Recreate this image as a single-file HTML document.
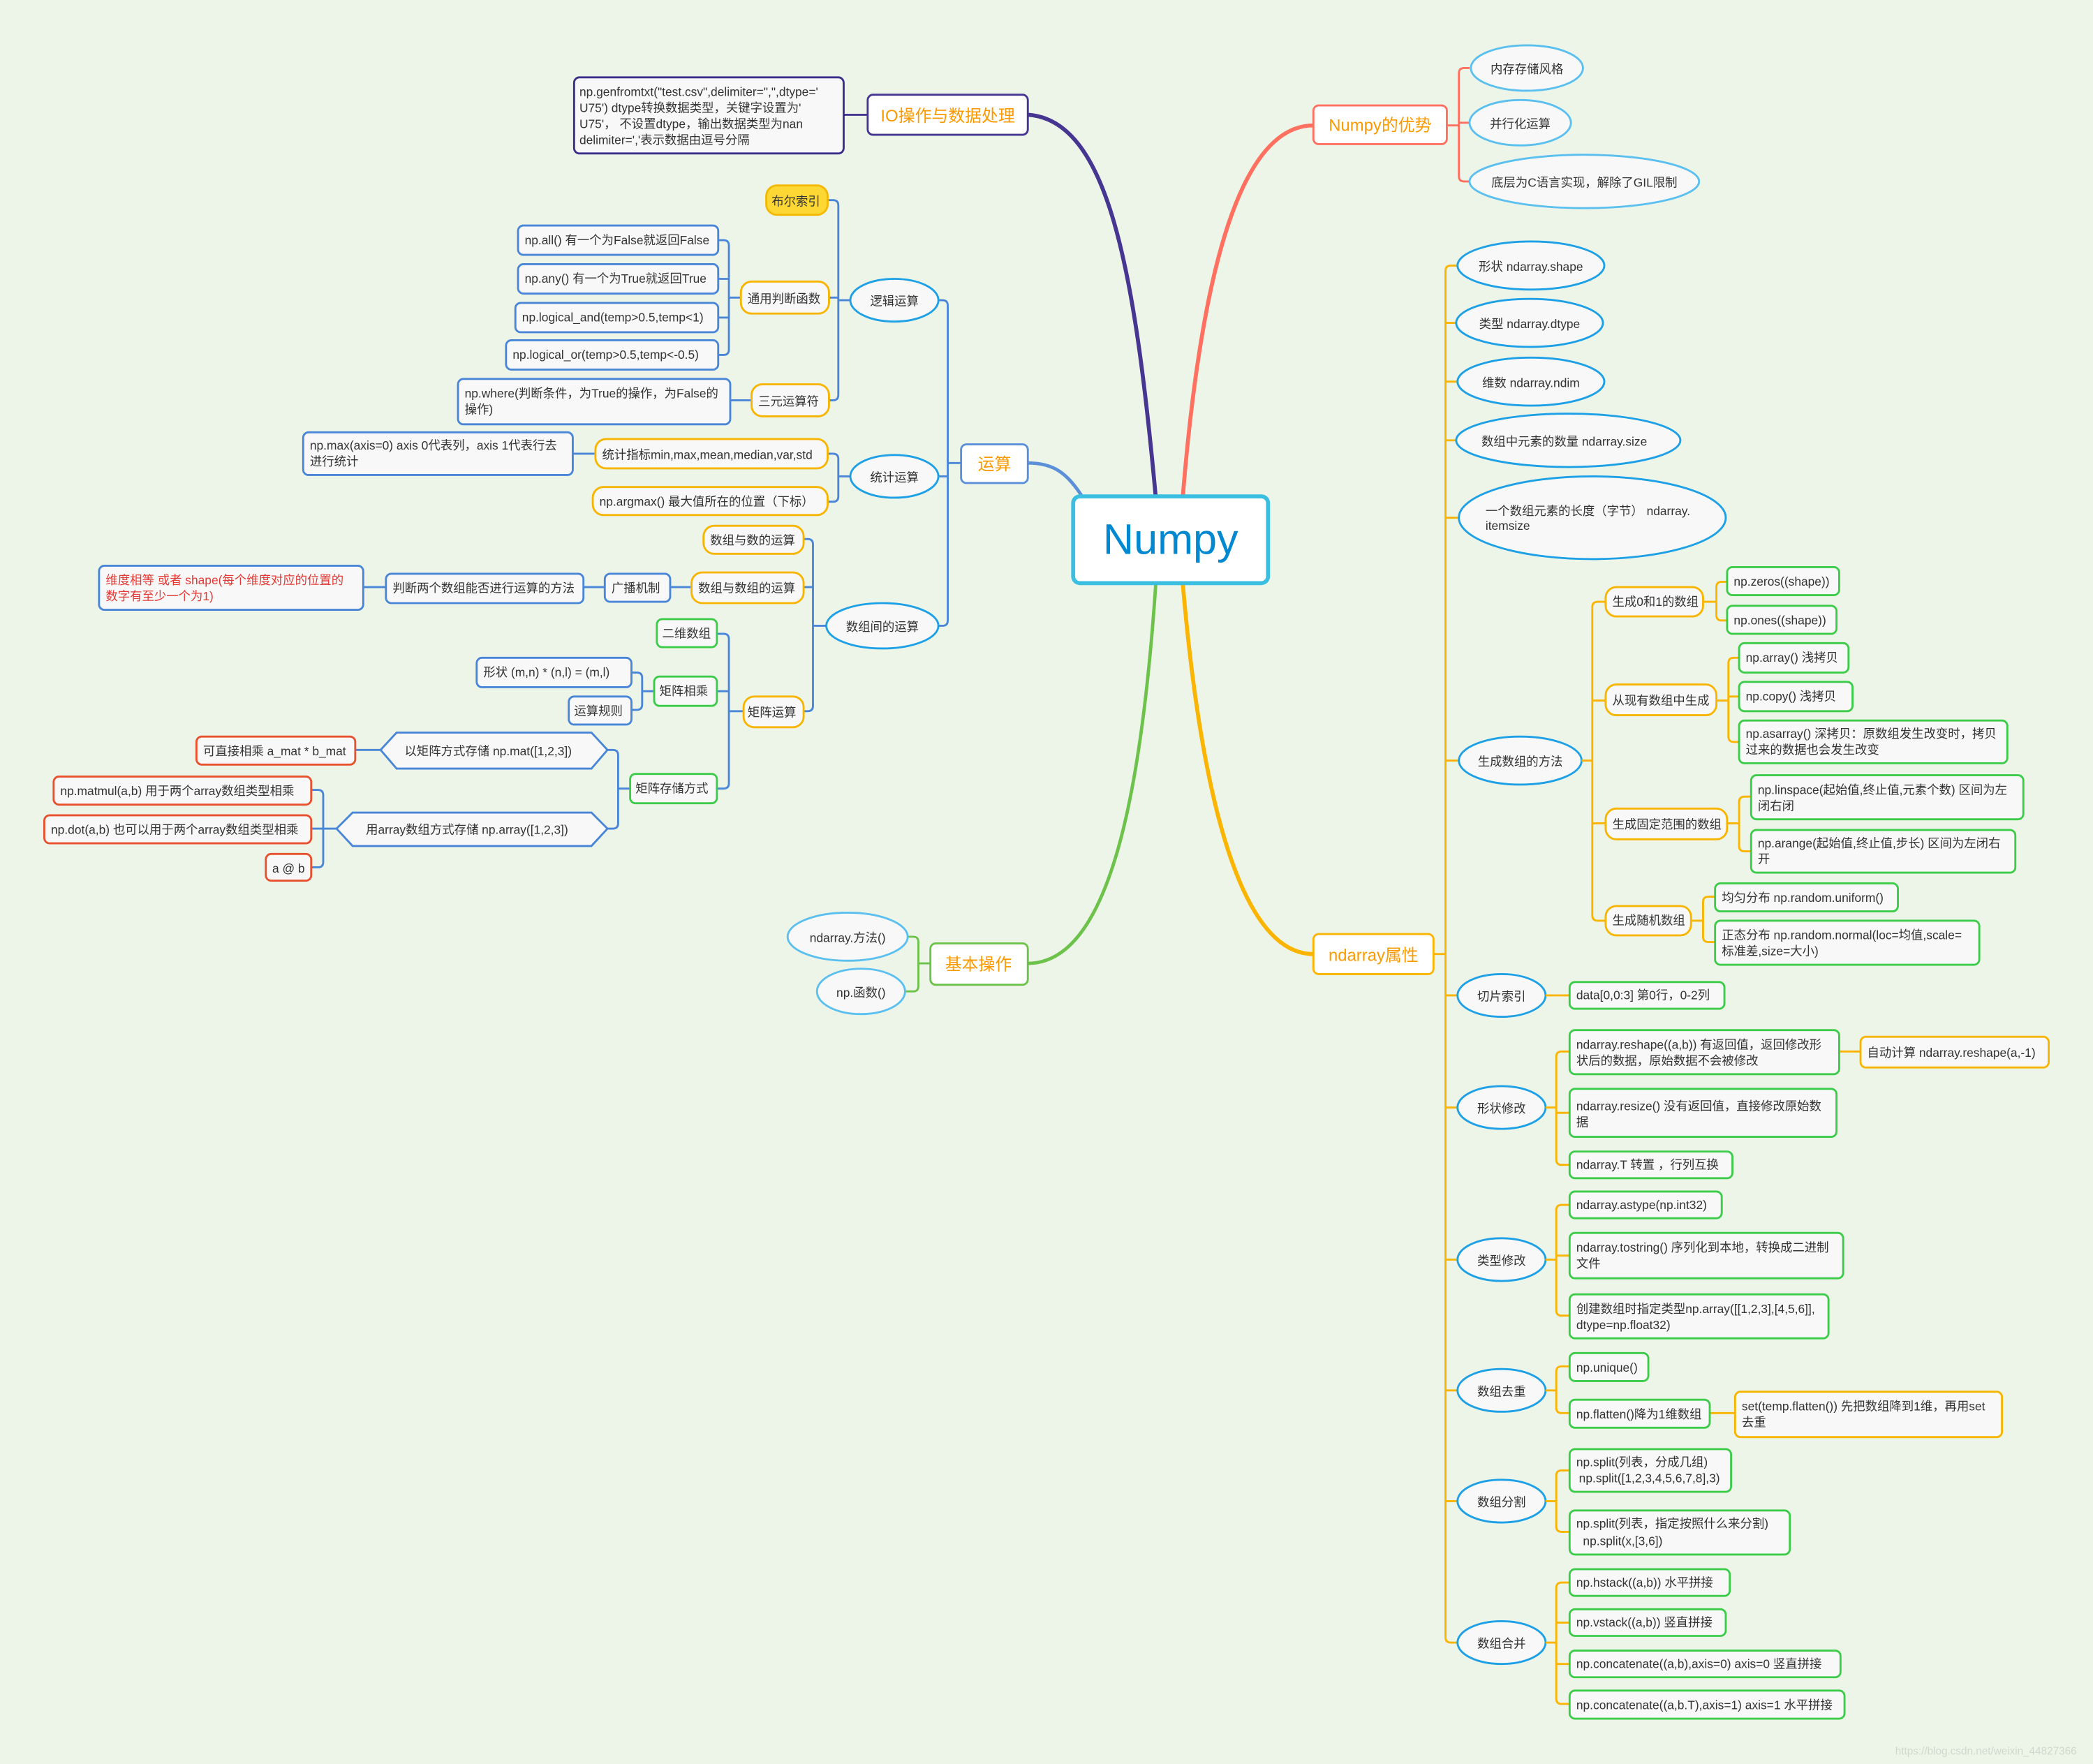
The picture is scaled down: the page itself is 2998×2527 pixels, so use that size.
<!DOCTYPE html>
<html><head><meta charset="utf-8"><style>
html,body{margin:0;padding:0;background:#edf5e8;}
svg{display:block;}
text{font-family:"Liberation Sans","Noto Sans CJK SC",sans-serif;font-size:9.1px;fill:#333;}
.b{fill:#f7f8f7;stroke:#4a86d8;stroke-width:1.5;}
.g{fill:#f7f8f7;stroke:#3ccc4a;stroke-width:1.5;}
.y{fill:#f7f8f7;stroke:#f7b500;stroke-width:1.5;}
.r{fill:#f7f8f7;stroke:#e8502e;stroke-width:1.5;}
.e{fill:#f7f8f7;stroke:#1ea0e6;stroke-width:1.5;}
.cb{fill:none;stroke:#4a86d8;stroke-width:1.5;}
.cy{fill:none;stroke:#fbb400;stroke-width:1.5;}
.cs{fill:none;stroke:#ff7060;stroke-width:1.5;}
.cg{fill:none;stroke:#6cc24a;stroke-width:1.5;}
.l1{font-size:12.5px;fill:#fb9a00;}
</style></head><body>
<svg width="2998" height="2527" viewBox="0 0 1568 1322" xmlns="http://www.w3.org/2000/svg">
<rect width="1568" height="1322" fill="#edf5e8"/>
<path d="M866,374 C850,200 830,90 770,86" fill="none" stroke="#473592" stroke-width="3"/>
<path d="M886,374 C900,200 930,94 984,94" fill="none" stroke="#ff7060" stroke-width="3"/>
<path d="M812,374 C800,355 790,347 770,347" fill="none" stroke="#5b8fd9" stroke-width="2.5"/>
<path d="M866,436 C855,600 830,722 770,722" fill="none" stroke="#6cc24a" stroke-width="2.5"/>
<path d="M886,436 C900,600 930,715 984,715" fill="none" stroke="#fbb400" stroke-width="3"/>

<rect x="804" y="372" width="146" height="65" rx="5" fill="#fff" stroke="#3bbfe0" stroke-width="3"/>
<text x="877" y="415" text-anchor="middle" style="font-size:32px;fill:#0088d0">Numpy</text>

<path class="cs" d="M1084,94 H1093 M1101,51 H1097 Q1093,51 1093,55 V132 Q1093,136 1097,136 H1101 M1093,92 H1101"/>
<rect x="984" y="79" width="100" height="29" rx="4" fill="#fff" stroke="#ff7060" stroke-width="1.5"/>
<text x="1034" y="98" text-anchor="middle" class="l1">Numpy的优势</text>
<ellipse class="e" cx="1144" cy="51" rx="42" ry="17" style="stroke:#5bc0f0"/><text x="1144" y="55" text-anchor="middle">内存存储风格</text>
<ellipse class="e" cx="1139" cy="92" rx="38" ry="17" style="stroke:#5bc0f0"/><text x="1139" y="96" text-anchor="middle">并行化运算</text>
<ellipse class="e" cx="1187" cy="136" rx="86" ry="20" style="stroke:#5bc0f0"/><text x="1187" y="140" text-anchor="middle">底层为C语言实现，解除了GIL限制</text>

<path class="cy" d="M1074,715 H1083 M1092,199 H1087 Q1083,199 1083,203 V1227 Q1083,1231 1087,1231 H1092 M1083,242 H1091 M1083,286 H1092 M1083,330 H1091 M1083,388 H1093 M1083,570 H1093 M1083,746 H1092 M1083,830 H1092 M1083,944 H1092 M1083,1042 H1092 M1083,1125 H1092"/>
<rect x="984" y="700" width="90" height="30" rx="4" fill="#fff" stroke="#fbb400" stroke-width="1.5"/>
<text x="1029" y="720" text-anchor="middle" class="l1">ndarray属性</text>
<ellipse class="e" cx="1147" cy="199" rx="55" ry="18"/><text x="1147" y="203" text-anchor="middle">形状 ndarray.shape</text>
<ellipse class="e" cx="1146" cy="242" rx="55" ry="18"/><text x="1146" y="246" text-anchor="middle">类型 ndarray.dtype</text>
<ellipse class="e" cx="1147" cy="286" rx="55" ry="18"/><text x="1147" y="290" text-anchor="middle">维数 ndarray.ndim</text>
<ellipse class="e" cx="1175" cy="330" rx="84" ry="20"/><text x="1172" y="334" text-anchor="middle">数组中元素的数量  ndarray.size</text>
<ellipse class="e" cx="1193" cy="388" rx="100" ry="31"/><text x="1113" y="386">一个数组元素的长度（字节）  ndarray.</text><text x="1113" y="397">itemsize</text>
<ellipse class="e" cx="1139" cy="570" rx="46" ry="18"/><text x="1139" y="574" text-anchor="middle">生成数组的方法</text>

<path class="cy" d="M1185,570 H1193 M1203,451 H1197 Q1193,451 1193,455 V686 Q1193,690 1197,690 H1203 M1193,525 H1203 M1193,617 H1203"/>
<rect class="y" x="1203" y="440" width="73" height="22" rx="8"/><text x="1208" y="454">生成0和1的数组</text>
<rect class="y" x="1203" y="513" width="83" height="23" rx="8"/><text x="1208" y="528">从现有数组中生成</text>
<rect class="y" x="1203" y="606" width="91" height="23" rx="8"/><text x="1208" y="621">生成固定范围的数组</text>
<rect class="y" x="1203" y="679" width="64" height="22" rx="8"/><text x="1208" y="693">生成随机数组</text>

<path class="cy" d="M1276,451 H1286 M1294,436 H1290 Q1286,436 1286,440 V461 Q1286,465 1290,465 H1294
M1286,525 H1295 M1303,493 H1299 Q1295,493 1295,497 V552 Q1295,556 1299,556 H1303 M1295,522 H1303
M1294,617 H1303 M1312,597 H1307 Q1303,597 1303,601 V634 Q1303,638 1307,638 H1312
M1267,690 H1276 M1285,672 H1280 Q1276,672 1276,676 V702 Q1276,706 1280,706 H1285"/>
<rect class="g" x="1294" y="425" width="84" height="21" rx="4"/><text x="1299" y="439">np.zeros((shape))</text>
<rect class="g" x="1294" y="454" width="82" height="21" rx="4"/><text x="1299" y="468">np.ones((shape))</text>
<rect class="g" x="1303" y="482" width="82" height="22" rx="4"/><text x="1308" y="496">np.array() 浅拷贝</text>
<rect class="g" x="1303" y="511" width="85" height="22" rx="4"/><text x="1308" y="525">np.copy()  浅拷贝</text>
<rect class="g" x="1303" y="540" width="201" height="32" rx="4"/><text x="1308" y="553">np.asarray() 深拷贝：原数组发生改变时，拷贝</text><text x="1308" y="565">过来的数据也会发生改变</text>
<rect class="g" x="1312" y="581" width="204" height="33" rx="4"/><text x="1317" y="595">np.linspace(起始值,终止值,元素个数)  区间为左</text><text x="1317" y="607">闭右闭</text>
<rect class="g" x="1312" y="622" width="198" height="32" rx="4"/><text x="1317" y="635">np.arange(起始值,终止值,步长)  区间为左闭右</text><text x="1317" y="647">开</text>
<rect class="g" x="1285" y="662" width="137" height="21" rx="4"/><text x="1290" y="676">均匀分布 np.random.uniform()</text>
<rect class="g" x="1285" y="690" width="198" height="33" rx="4"/><text x="1290" y="704">正态分布 np.random.normal(loc=均值,scale=</text><text x="1290" y="716">标准差,size=大小)</text>

<ellipse class="e" cx="1125" cy="746" rx="33" ry="16"/><text x="1125" y="750" text-anchor="middle">切片索引</text>
<path class="cy" d="M1158,746 H1176"/>
<rect class="g" x="1176" y="736" width="116" height="20" rx="4"/><text x="1181" y="749">data[0,0:3] 第0行，0-2列</text>

<ellipse class="e" cx="1125" cy="830" rx="33" ry="16"/><text x="1125" y="834" text-anchor="middle">形状修改</text>
<path class="cy" d="M1158,830 H1166 M1176,788 H1170 Q1166,788 1166,792 V869 Q1166,873 1170,873 H1176 M1166,834 H1176 M1378,788 H1394"/>
<rect class="g" x="1176" y="772" width="202" height="33" rx="4"/><text x="1181" y="786">ndarray.reshape((a,b))  有返回值，返回修改形</text><text x="1181" y="798">状后的数据，原始数据不会被修改</text>
<rect class="y" x="1394" y="777" width="141" height="23" rx="4"/><text x="1399" y="792">自动计算  ndarray.reshape(a,-1)</text>
<rect class="g" x="1176" y="816" width="200" height="36" rx="4"/><text x="1181" y="832">ndarray.resize()  没有返回值，直接修改原始数</text><text x="1181" y="844">据</text>
<rect class="g" x="1176" y="863" width="122" height="20" rx="4"/><text x="1181" y="876">ndarray.T  转置 ，行列互换</text>

<ellipse class="e" cx="1125" cy="944" rx="33" ry="16"/><text x="1125" y="948" text-anchor="middle">类型修改</text>
<path class="cy" d="M1158,944 H1166 M1176,903 H1170 Q1166,903 1166,907 V982 Q1166,986 1170,986 H1176 M1166,941 H1176"/>
<rect class="g" x="1176" y="893" width="114" height="20" rx="4"/><text x="1181" y="906">ndarray.astype(np.int32)</text>
<rect class="g" x="1176" y="924" width="205" height="34" rx="4"/><text x="1181" y="938">ndarray.tostring() 序列化到本地，转换成二进制</text><text x="1181" y="950">文件</text>
<rect class="g" x="1176" y="970" width="194" height="33" rx="4"/><text x="1181" y="984">创建数组时指定类型np.array([[1,2,3],[4,5,6]],</text><text x="1181" y="996">dtype=np.float32)</text>

<ellipse class="e" cx="1125" cy="1042" rx="33" ry="16"/><text x="1125" y="1046" text-anchor="middle">数组去重</text>
<path class="cy" d="M1158,1042 H1166 M1176,1024 H1170 Q1166,1024 1166,1028 V1055 Q1166,1059 1170,1059 H1176 M1281,1059 H1300"/>
<rect class="g" x="1176" y="1014" width="59" height="21" rx="4"/><text x="1181" y="1028">np.unique()</text>
<rect class="g" x="1176" y="1049" width="105" height="21" rx="4"/><text x="1181" y="1063">np.flatten()降为1维数组</text>
<rect class="y" x="1300" y="1043" width="200" height="34" rx="4"/><text x="1305" y="1057">set(temp.flatten())  先把数组降到1维，再用set</text><text x="1305" y="1069">去重</text>

<ellipse class="e" cx="1125" cy="1125" rx="33" ry="16"/><text x="1125" y="1129" text-anchor="middle">数组分割</text>
<path class="cy" d="M1158,1125 H1166 M1176,1102 H1170 Q1166,1102 1166,1106 V1144 Q1166,1148 1170,1148 H1176"/>
<rect class="g" x="1176" y="1086" width="121" height="32" rx="4"/><text x="1181" y="1099">np.split(列表，分成几组)</text><text x="1183" y="1111">np.split([1,2,3,4,5,6,7,8],3)</text>
<rect class="g" x="1176" y="1132" width="165" height="33" rx="4"/><text x="1181" y="1145">np.split(列表，指定按照什么来分割)</text><text x="1186" y="1158">np.split(x,[3,6])</text>

<ellipse class="e" cx="1125" cy="1231" rx="33" ry="16"/><text x="1125" y="1235" text-anchor="middle">数组合并</text>
<path class="cy" d="M1158,1231 H1166 M1176,1186 H1170 Q1166,1186 1166,1190 V1273 Q1166,1277 1170,1277 H1176 M1166,1216 H1176 M1166,1247 H1176"/>
<rect class="g" x="1176" y="1176" width="120" height="20" rx="4"/><text x="1181" y="1189">np.hstack((a,b))  水平拼接</text>
<rect class="g" x="1176" y="1206" width="117" height="20" rx="4"/><text x="1181" y="1219">np.vstack((a,b)) 竖直拼接</text>
<rect class="g" x="1176" y="1237" width="203" height="20" rx="4"/><text x="1181" y="1250">np.concatenate((a,b),axis=0) axis=0 竖直拼接</text>
<rect class="g" x="1176" y="1267" width="206" height="21" rx="4"/><text x="1181" y="1281">np.concatenate((a,b.T),axis=1) axis=1 水平拼接</text>

<path d="M650,86 H632" fill="none" stroke="#473592" stroke-width="1.5"/>
<rect x="650" y="71" width="120" height="30" rx="4" fill="#fff" stroke="#473592" stroke-width="1.5"/>
<text x="710" y="91" text-anchor="middle" class="l1">IO操作与数据处理</text>
<rect x="430" y="58" width="202" height="57" rx="4" fill="#f7f8f7" stroke="#3a2e8a" stroke-width="1.5"/>
<text x="434" y="72">np.genfromtxt("test.csv",delimiter=",",dtype='</text>
<text x="434" y="84">U75') dtype转换数据类型，关键字设置为'</text>
<text x="434" y="96">U75'，  不设置dtype，输出数据类型为nan</text>
<text x="434" y="108">delimiter=','表示数据由逗号分隔</text>

<path class="cb" d="M720,347 H710 M703,225 H706 Q710,225 710,229 V465 Q710,469 706,469 H703 M710,357 H703"/>
<rect x="720" y="333" width="50" height="29" rx="4" fill="#fff" stroke="#5b8fd9" stroke-width="1.5"/>
<text x="745" y="352" text-anchor="middle" class="l1">运算</text>
<ellipse class="e" cx="670" cy="225" rx="33" ry="16"/><text x="670" y="229" text-anchor="middle">逻辑运算</text>
<ellipse class="e" cx="670" cy="357" rx="33" ry="16"/><text x="670" y="361" text-anchor="middle">统计运算</text>
<ellipse class="e" cx="661" cy="469" rx="42" ry="17"/><text x="661" y="473" text-anchor="middle">数组间的运算</text>

<path class="cb" d="M637,225 H628 M620,150 H624 Q628,150 628,154 V296 Q628,300 624,300 H621 M628,223 H621
M555,223 H546 M538,180 H542 Q546,180 546,184 V262 Q546,266 542,266 H538 M546,209 H538 M546,238 H538
M563,300 H547
M637,357 H628 M620,340 H624 Q628,340 628,344 V372 Q628,376 624,376 H620 M446,340 H429
M619,469 H609 M602,404 H605 Q609,404 609,408 V529 Q609,533 605,533 H602 M609,440 H602 M518,440 H502 M453,440 H437 M289,440 H272
M557,533 H546 M537,475 H542 Q546,475 546,479 V587 Q546,591 542,591 H537 M546,518 H537
M490,518 H481 M473,504 H477 Q481,504 481,508 V528 Q481,532 477,532 H473
M472,591 H463 M455,562 H459 Q463,562 463,566 V617 Q463,621 459,621 H455 M285,562 H266
M252,621 H242 M233,592 H238 Q242,592 242,596 V646 Q242,650 238,650 H233 M242,621 H233"/>
<rect x="574" y="139" width="46" height="22" rx="8" fill="#fdd835" stroke="#f5b800" stroke-width="1.5"/><text x="578" y="154">布尔索引</text>
<rect class="y" x="555" y="211" width="66" height="24" rx="8"/><text x="560" y="227">通用判断函数</text>
<rect class="b" x="388" y="169" width="150" height="22" rx="4"/><text x="393" y="183">np.all() 有一个为False就返回False</text>
<rect class="b" x="388" y="198" width="150" height="22" rx="4"/><text x="393" y="212">np.any() 有一个为True就返回True</text>
<rect class="b" x="386" y="227" width="152" height="22" rx="4"/><text x="391" y="241">np.logical_and(temp&gt;0.5,temp&lt;1)</text>
<rect class="b" x="379" y="255" width="159" height="22" rx="4"/><text x="384" y="269">np.logical_or(temp&gt;0.5,temp&lt;-0.5)</text>
<rect class="y" x="563" y="288" width="58" height="24" rx="8"/><text x="568" y="304">三元运算符</text>
<rect class="b" x="343" y="284" width="204" height="34" rx="4"/><text x="348" y="298">np.where(判断条件，为True的操作，为False的</text><text x="348" y="310">操作)</text>
<rect class="y" x="446" y="329" width="174" height="22" rx="8"/><text x="451" y="344">统计指标min,max,mean,median,var,std</text>
<rect class="b" x="227" y="324" width="202" height="32" rx="4"/><text x="232" y="337">np.max(axis=0)  axis 0代表列，axis 1代表行去</text><text x="232" y="349">进行统计</text>
<rect class="y" x="444" y="365" width="176" height="21" rx="8"/><text x="449" y="379">np.argmax() 最大值所在的位置（下标）</text>
<rect class="y" x="527" y="394" width="75" height="21" rx="8"/><text x="532" y="408">数组与数的运算</text>
<rect class="y" x="518" y="429" width="84" height="23" rx="8"/><text x="523" y="444">数组与数组的运算</text>
<rect class="b" x="453" y="430" width="49" height="21" rx="4"/><text x="458" y="444">广播机制</text>
<rect class="b" x="289" y="430" width="148" height="22" rx="4"/><text x="294" y="444">判断两个数组能否进行运算的方法</text>
<rect class="b" x="74" y="424" width="198" height="33" rx="4"/><text x="79" y="438" style="fill:#e53935">维度相等   或者  shape(每个维度对应的位置的</text><text x="79" y="450" style="fill:#e53935">数字有至少一个为1)</text>
<rect class="y" x="557" y="522" width="45" height="23" rx="8"/><text x="560" y="537">矩阵运算</text>
<rect class="g" x="492" y="464" width="45" height="21" rx="4"/><text x="496" y="478">二维数组</text>
<rect class="g" x="490" y="507" width="47" height="22" rx="4"/><text x="494" y="521">矩阵相乘</text>
<rect class="b" x="357" y="493" width="116" height="22" rx="4"/><text x="362" y="507">形状 (m,n) * (n,l) = (m,l)</text>
<rect class="b" x="426" y="522" width="47" height="21" rx="4"/><text x="430" y="536">运算规则</text>
<rect class="g" x="472" y="580" width="65" height="22" rx="4"/><text x="476" y="594">矩阵存储方式</text>
<polygon class="b" points="285,562 297,549 443,549 455,562 443,576 297,576"/><text x="303" y="566">以矩阵方式存储  np.mat([1,2,3])</text>
<rect class="r" x="147" y="552" width="119" height="21" rx="4"/><text x="152" y="566">可直接相乘  a_mat * b_mat</text>
<polygon class="b" points="252,621 264,609 443,609 455,621 443,634 264,634"/><text x="274" y="625">用array数组方式存储  np.array([1,2,3])</text>
<rect class="r" x="40" y="582" width="193" height="21" rx="4"/><text x="45" y="596">np.matmul(a,b)  用于两个array数组类型相乘</text>
<rect class="r" x="33" y="611" width="200" height="21" rx="4"/><text x="38" y="625">np.dot(a,b) 也可以用于两个array数组类型相乘</text>
<rect class="r" x="199" y="640" width="34" height="20" rx="4"/><text x="216" y="654" text-anchor="middle">a @ b</text>

<path class="cg" d="M697,722 H688 M680,702 H684 Q688,702 688,706 V739 Q688,743 684,743 H678"/>
<rect x="697" y="707" width="73" height="31" rx="4" fill="#fff" stroke="#6cc24a" stroke-width="1.5"/>
<text x="733" y="727" text-anchor="middle" class="l1">基本操作</text>
<ellipse class="e" cx="635" cy="702" rx="45" ry="18" style="stroke:#5bc0f0"/><text x="635" y="706" text-anchor="middle">ndarray.方法()</text>
<ellipse class="e" cx="645" cy="743" rx="33" ry="17" style="stroke:#5bc0f0"/><text x="645" y="747" text-anchor="middle">np.函数()</text>

<text x="1420" y="1315" style="font-size:8px;fill:#cfd8cc">https://blog.csdn.net/weixin_44827366</text>
</svg>
</body></html>
